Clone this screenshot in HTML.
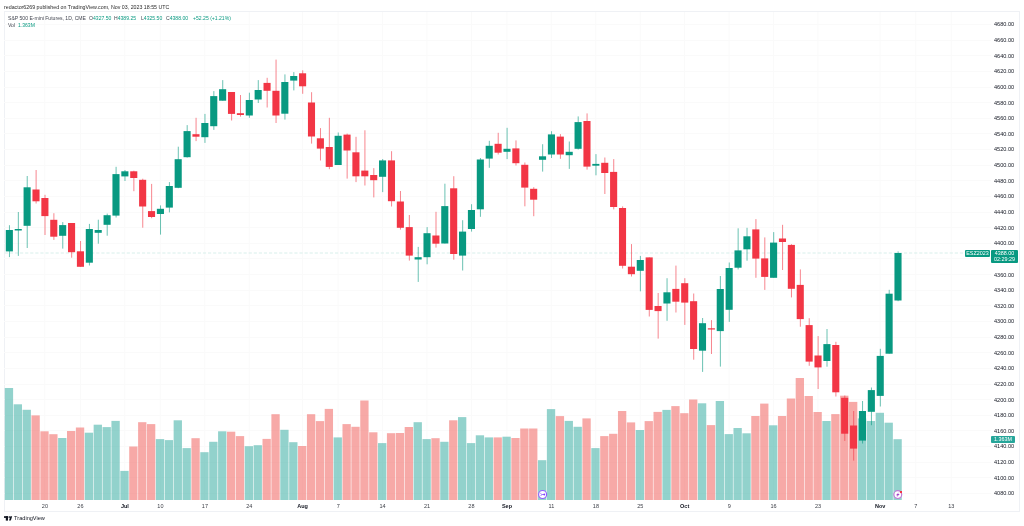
<!DOCTYPE html>
<html><head><meta charset="utf-8">
<style>
html,body{margin:0;padding:0;background:#fff;}
body{width:1024px;height:526px;position:relative;overflow:hidden;font-family:"Liberation Sans", sans-serif;color:#131722;}
.frame{position:absolute;left:4px;top:11px;width:1014px;height:499px;border:1px solid #eff1f5;}
.t{will-change:transform;}
.hdr{position:absolute;left:4px;top:2.8px;font-size:5.85px;line-height:8px;white-space:nowrap;color:#2a2a2a;transform:scaleX(0.903);transform-origin:0 0;}
.lg{position:absolute;left:7.6px;top:14.1px;font-size:5.7px;line-height:8px;white-space:nowrap;color:#434651;transform:scaleX(0.895);transform-origin:0 0;}
.lg2{position:absolute;left:7.6px;top:21.1px;font-size:5.7px;line-height:8px;white-space:nowrap;color:#434651;transform:scaleX(0.895);transform-origin:0 0;}
.v{color:#089981;}
.pl{position:absolute;left:994px;font-size:5.55px;line-height:8px;white-space:nowrap;color:#131722;}
.tl{position:absolute;top:502px;width:40px;text-align:center;font-size:5.5px;line-height:8px;color:#3a3d45;}
.tl.b{font-weight:bold;color:#131722;}
.box{position:absolute;background:#089981;color:#fff;font-size:5.4px;white-space:nowrap;border-radius:1px;text-align:center;}
.logo{position:absolute;left:14.1px;top:514.2px;font-size:5.6px;line-height:8px;color:#131722;white-space:nowrap;}
</style></head><body>
<div class="frame"></div>
<svg width="1024" height="526" viewBox="0 0 1024 526" style="position:absolute;left:0;top:0">
<rect x="4" y="24" width="987" height="1" fill="#fafafa"/>
<rect x="4" y="40" width="987" height="1" fill="#fafafa"/>
<rect x="4" y="55" width="987" height="1" fill="#fafafa"/>
<rect x="4" y="71" width="987" height="1" fill="#fafafa"/>
<rect x="4" y="87" width="987" height="1" fill="#fafafa"/>
<rect x="4" y="102" width="987" height="1" fill="#fafafa"/>
<rect x="4" y="118" width="987" height="1" fill="#fafafa"/>
<rect x="4" y="133" width="987" height="1" fill="#fafafa"/>
<rect x="4" y="149" width="987" height="1" fill="#fafafa"/>
<rect x="4" y="165" width="987" height="1" fill="#fafafa"/>
<rect x="4" y="180" width="987" height="1" fill="#fafafa"/>
<rect x="4" y="196" width="987" height="1" fill="#fafafa"/>
<rect x="4" y="212" width="987" height="1" fill="#fafafa"/>
<rect x="4" y="227" width="987" height="1" fill="#fafafa"/>
<rect x="4" y="243" width="987" height="1" fill="#fafafa"/>
<rect x="4" y="258" width="987" height="1" fill="#fafafa"/>
<rect x="4" y="274" width="987" height="1" fill="#fafafa"/>
<rect x="4" y="290" width="987" height="1" fill="#fafafa"/>
<rect x="4" y="305" width="987" height="1" fill="#fafafa"/>
<rect x="4" y="321" width="987" height="1" fill="#fafafa"/>
<rect x="4" y="337" width="987" height="1" fill="#fafafa"/>
<rect x="4" y="352" width="987" height="1" fill="#fafafa"/>
<rect x="4" y="368" width="987" height="1" fill="#fafafa"/>
<rect x="4" y="384" width="987" height="1" fill="#fafafa"/>
<rect x="4" y="399" width="987" height="1" fill="#fafafa"/>
<rect x="4" y="415" width="987" height="1" fill="#fafafa"/>
<rect x="4" y="430" width="987" height="1" fill="#fafafa"/>
<rect x="4" y="446" width="987" height="1" fill="#fafafa"/>
<rect x="4" y="462" width="987" height="1" fill="#fafafa"/>
<rect x="4" y="477" width="987" height="1" fill="#fafafa"/>
<rect x="4" y="493" width="987" height="1" fill="#fafafa"/>
<rect x="44.30" y="12" width="1" height="488" fill="#fafafa"/>
<rect x="79.84" y="12" width="1" height="488" fill="#fafafa"/>
<rect x="124.27" y="12" width="1" height="488" fill="#fafafa"/>
<rect x="159.82" y="12" width="1" height="488" fill="#fafafa"/>
<rect x="204.25" y="12" width="1" height="488" fill="#fafafa"/>
<rect x="248.69" y="12" width="1" height="488" fill="#fafafa"/>
<rect x="302.00" y="12" width="1" height="488" fill="#fafafa"/>
<rect x="337.55" y="12" width="1" height="488" fill="#fafafa"/>
<rect x="381.98" y="12" width="1" height="488" fill="#fafafa"/>
<rect x="426.42" y="12" width="1" height="488" fill="#fafafa"/>
<rect x="470.85" y="12" width="1" height="488" fill="#fafafa"/>
<rect x="506.39" y="12" width="1" height="488" fill="#fafafa"/>
<rect x="550.83" y="12" width="1" height="488" fill="#fafafa"/>
<rect x="595.26" y="12" width="1" height="488" fill="#fafafa"/>
<rect x="639.69" y="12" width="1" height="488" fill="#fafafa"/>
<rect x="684.12" y="12" width="1" height="488" fill="#fafafa"/>
<rect x="728.56" y="12" width="1" height="488" fill="#fafafa"/>
<rect x="772.99" y="12" width="1" height="488" fill="#fafafa"/>
<rect x="817.42" y="12" width="1" height="488" fill="#fafafa"/>
<rect x="879.63" y="12" width="1" height="488" fill="#fafafa"/>
<rect x="915.17" y="12" width="1" height="488" fill="#fafafa"/>
<rect x="950.72" y="12" width="1" height="488" fill="#fafafa"/>
<rect x="4.80" y="388.0" width="8.3" height="112.00" fill="rgba(38,166,154,0.5)"/>
<rect x="13.69" y="404.3" width="8.3" height="95.70" fill="rgba(38,166,154,0.5)"/>
<rect x="22.57" y="409.8" width="8.3" height="90.20" fill="rgba(38,166,154,0.5)"/>
<rect x="31.46" y="415.4" width="8.3" height="84.60" fill="rgba(239,83,80,0.5)"/>
<rect x="40.35" y="431.3" width="8.3" height="68.70" fill="rgba(239,83,80,0.5)"/>
<rect x="49.23" y="434.2" width="8.3" height="65.80" fill="rgba(239,83,80,0.5)"/>
<rect x="58.12" y="438.0" width="8.3" height="62.00" fill="rgba(38,166,154,0.5)"/>
<rect x="67.01" y="431.0" width="8.3" height="69.00" fill="rgba(239,83,80,0.5)"/>
<rect x="75.89" y="427.5" width="8.3" height="72.50" fill="rgba(239,83,80,0.5)"/>
<rect x="84.78" y="432.7" width="8.3" height="67.30" fill="rgba(38,166,154,0.5)"/>
<rect x="93.66" y="424.7" width="8.3" height="75.30" fill="rgba(38,166,154,0.5)"/>
<rect x="102.55" y="427.1" width="8.3" height="72.90" fill="rgba(38,166,154,0.5)"/>
<rect x="111.44" y="420.9" width="8.3" height="79.10" fill="rgba(38,166,154,0.5)"/>
<rect x="120.32" y="470.9" width="8.3" height="29.10" fill="rgba(38,166,154,0.5)"/>
<rect x="129.21" y="446.5" width="8.3" height="53.50" fill="rgba(239,83,80,0.5)"/>
<rect x="138.10" y="422.2" width="8.3" height="77.80" fill="rgba(239,83,80,0.5)"/>
<rect x="146.98" y="424.1" width="8.3" height="75.90" fill="rgba(239,83,80,0.5)"/>
<rect x="155.87" y="439.1" width="8.3" height="60.90" fill="rgba(38,166,154,0.5)"/>
<rect x="164.76" y="440.1" width="8.3" height="59.90" fill="rgba(38,166,154,0.5)"/>
<rect x="173.64" y="420.3" width="8.3" height="79.70" fill="rgba(38,166,154,0.5)"/>
<rect x="182.53" y="448.1" width="8.3" height="51.90" fill="rgba(38,166,154,0.5)"/>
<rect x="191.42" y="438.2" width="8.3" height="61.80" fill="rgba(239,83,80,0.5)"/>
<rect x="200.30" y="452.2" width="8.3" height="47.80" fill="rgba(38,166,154,0.5)"/>
<rect x="209.19" y="441.8" width="8.3" height="58.20" fill="rgba(38,166,154,0.5)"/>
<rect x="218.08" y="431.3" width="8.3" height="68.70" fill="rgba(38,166,154,0.5)"/>
<rect x="226.96" y="431.7" width="8.3" height="68.30" fill="rgba(239,83,80,0.5)"/>
<rect x="235.85" y="436.1" width="8.3" height="63.90" fill="rgba(239,83,80,0.5)"/>
<rect x="244.74" y="446.2" width="8.3" height="53.80" fill="rgba(38,166,154,0.5)"/>
<rect x="253.62" y="445.2" width="8.3" height="54.80" fill="rgba(38,166,154,0.5)"/>
<rect x="262.51" y="438.9" width="8.3" height="61.10" fill="rgba(239,83,80,0.5)"/>
<rect x="271.39" y="414.2" width="8.3" height="85.80" fill="rgba(239,83,80,0.5)"/>
<rect x="280.28" y="429.8" width="8.3" height="70.20" fill="rgba(38,166,154,0.5)"/>
<rect x="289.17" y="442.2" width="8.3" height="57.80" fill="rgba(38,166,154,0.5)"/>
<rect x="298.05" y="446.0" width="8.3" height="54.00" fill="rgba(239,83,80,0.5)"/>
<rect x="306.94" y="414.2" width="8.3" height="85.80" fill="rgba(239,83,80,0.5)"/>
<rect x="315.83" y="421.1" width="8.3" height="78.90" fill="rgba(239,83,80,0.5)"/>
<rect x="324.71" y="408.9" width="8.3" height="91.10" fill="rgba(239,83,80,0.5)"/>
<rect x="333.60" y="437.4" width="8.3" height="62.60" fill="rgba(38,166,154,0.5)"/>
<rect x="342.49" y="424.1" width="8.3" height="75.90" fill="rgba(239,83,80,0.5)"/>
<rect x="351.37" y="426.8" width="8.3" height="73.20" fill="rgba(239,83,80,0.5)"/>
<rect x="360.26" y="400.5" width="8.3" height="99.50" fill="rgba(239,83,80,0.5)"/>
<rect x="369.15" y="432.3" width="8.3" height="67.70" fill="rgba(239,83,80,0.5)"/>
<rect x="378.03" y="443.1" width="8.3" height="56.90" fill="rgba(38,166,154,0.5)"/>
<rect x="386.92" y="433.2" width="8.3" height="66.80" fill="rgba(239,83,80,0.5)"/>
<rect x="395.81" y="433.0" width="8.3" height="67.00" fill="rgba(239,83,80,0.5)"/>
<rect x="404.69" y="427.0" width="8.3" height="73.00" fill="rgba(239,83,80,0.5)"/>
<rect x="413.58" y="422.2" width="8.3" height="77.80" fill="rgba(38,166,154,0.5)"/>
<rect x="422.47" y="439.1" width="8.3" height="60.90" fill="rgba(38,166,154,0.5)"/>
<rect x="431.35" y="438.2" width="8.3" height="61.80" fill="rgba(239,83,80,0.5)"/>
<rect x="440.24" y="441.8" width="8.3" height="58.20" fill="rgba(38,166,154,0.5)"/>
<rect x="449.12" y="420.3" width="8.3" height="79.70" fill="rgba(239,83,80,0.5)"/>
<rect x="458.01" y="417.1" width="8.3" height="82.90" fill="rgba(38,166,154,0.5)"/>
<rect x="466.90" y="443.1" width="8.3" height="56.90" fill="rgba(38,166,154,0.5)"/>
<rect x="475.78" y="435.3" width="8.3" height="64.70" fill="rgba(38,166,154,0.5)"/>
<rect x="484.67" y="437.4" width="8.3" height="62.60" fill="rgba(38,166,154,0.5)"/>
<rect x="493.56" y="437.4" width="8.3" height="62.60" fill="rgba(239,83,80,0.5)"/>
<rect x="502.44" y="436.7" width="8.3" height="63.30" fill="rgba(38,166,154,0.5)"/>
<rect x="511.33" y="438.0" width="8.3" height="62.00" fill="rgba(239,83,80,0.5)"/>
<rect x="520.22" y="428.5" width="8.3" height="71.50" fill="rgba(239,83,80,0.5)"/>
<rect x="529.10" y="428.5" width="8.3" height="71.50" fill="rgba(239,83,80,0.5)"/>
<rect x="537.99" y="460.2" width="8.3" height="39.80" fill="rgba(38,166,154,0.5)"/>
<rect x="546.88" y="409.1" width="8.3" height="90.90" fill="rgba(38,166,154,0.5)"/>
<rect x="555.76" y="416.1" width="8.3" height="83.90" fill="rgba(239,83,80,0.5)"/>
<rect x="564.65" y="420.9" width="8.3" height="79.10" fill="rgba(38,166,154,0.5)"/>
<rect x="573.54" y="426.8" width="8.3" height="73.20" fill="rgba(38,166,154,0.5)"/>
<rect x="582.42" y="418.4" width="8.3" height="81.60" fill="rgba(239,83,80,0.5)"/>
<rect x="591.31" y="448.1" width="8.3" height="51.90" fill="rgba(38,166,154,0.5)"/>
<rect x="600.20" y="436.1" width="8.3" height="63.90" fill="rgba(239,83,80,0.5)"/>
<rect x="609.08" y="433.8" width="8.3" height="66.20" fill="rgba(239,83,80,0.5)"/>
<rect x="617.97" y="411.0" width="8.3" height="89.00" fill="rgba(239,83,80,0.5)"/>
<rect x="626.86" y="422.4" width="8.3" height="77.60" fill="rgba(239,83,80,0.5)"/>
<rect x="635.74" y="430.0" width="8.3" height="70.00" fill="rgba(38,166,154,0.5)"/>
<rect x="644.63" y="421.1" width="8.3" height="78.90" fill="rgba(239,83,80,0.5)"/>
<rect x="653.51" y="411.9" width="8.3" height="88.10" fill="rgba(239,83,80,0.5)"/>
<rect x="662.40" y="409.9" width="8.3" height="90.10" fill="rgba(38,166,154,0.5)"/>
<rect x="671.29" y="406.1" width="8.3" height="93.90" fill="rgba(239,83,80,0.5)"/>
<rect x="680.17" y="413.2" width="8.3" height="86.80" fill="rgba(239,83,80,0.5)"/>
<rect x="689.06" y="399.5" width="8.3" height="100.50" fill="rgba(239,83,80,0.5)"/>
<rect x="697.95" y="403.3" width="8.3" height="96.70" fill="rgba(38,166,154,0.5)"/>
<rect x="706.83" y="425.1" width="8.3" height="74.90" fill="rgba(239,83,80,0.5)"/>
<rect x="715.72" y="401.0" width="8.3" height="99.00" fill="rgba(38,166,154,0.5)"/>
<rect x="724.61" y="434.1" width="8.3" height="65.90" fill="rgba(38,166,154,0.5)"/>
<rect x="733.49" y="428.0" width="8.3" height="72.00" fill="rgba(38,166,154,0.5)"/>
<rect x="742.38" y="433.3" width="8.3" height="66.70" fill="rgba(38,166,154,0.5)"/>
<rect x="751.27" y="416.0" width="8.3" height="84.00" fill="rgba(239,83,80,0.5)"/>
<rect x="760.15" y="403.6" width="8.3" height="96.40" fill="rgba(239,83,80,0.5)"/>
<rect x="769.04" y="425.3" width="8.3" height="74.70" fill="rgba(38,166,154,0.5)"/>
<rect x="777.93" y="416.0" width="8.3" height="84.00" fill="rgba(239,83,80,0.5)"/>
<rect x="786.81" y="398.5" width="8.3" height="101.50" fill="rgba(239,83,80,0.5)"/>
<rect x="795.70" y="378.0" width="8.3" height="122.00" fill="rgba(239,83,80,0.5)"/>
<rect x="804.59" y="396.0" width="8.3" height="104.00" fill="rgba(239,83,80,0.5)"/>
<rect x="813.47" y="412.0" width="8.3" height="88.00" fill="rgba(239,83,80,0.5)"/>
<rect x="822.36" y="421.0" width="8.3" height="79.00" fill="rgba(38,166,154,0.5)"/>
<rect x="831.24" y="414.1" width="8.3" height="85.90" fill="rgba(239,83,80,0.5)"/>
<rect x="840.13" y="395.7" width="8.3" height="104.30" fill="rgba(239,83,80,0.5)"/>
<rect x="849.02" y="401.9" width="8.3" height="98.10" fill="rgba(239,83,80,0.5)"/>
<rect x="857.90" y="418.4" width="8.3" height="81.60" fill="rgba(38,166,154,0.5)"/>
<rect x="866.79" y="421.0" width="8.3" height="79.00" fill="rgba(38,166,154,0.5)"/>
<rect x="875.68" y="412.8" width="8.3" height="87.20" fill="rgba(38,166,154,0.5)"/>
<rect x="884.56" y="422.7" width="8.3" height="77.30" fill="rgba(38,166,154,0.5)"/>
<rect x="893.45" y="439.2" width="8.3" height="60.80" fill="rgba(38,166,154,0.5)"/>
<line x1="4.8" y1="253" x2="965" y2="253" stroke="#d8efeb" stroke-width="1" stroke-dasharray="3.2,1.88"/>
<rect x="8.95" y="225.20" width="1" height="31.90" fill="#089981" fill-opacity="0.6"/>
<rect x="5.80" y="230.00" width="7.1" height="21.40" fill="#089981"/>
<rect x="17.84" y="212.00" width="1" height="43.90" fill="#089981" fill-opacity="0.6"/>
<rect x="14.69" y="229.00" width="7.1" height="1.50" fill="#089981"/>
<rect x="26.72" y="176.00" width="1" height="72.00" fill="#089981" fill-opacity="0.6"/>
<rect x="23.57" y="187.30" width="7.1" height="38.50" fill="#089981"/>
<rect x="35.61" y="170.00" width="1" height="33.50" fill="#f23645" fill-opacity="0.6"/>
<rect x="32.46" y="189.50" width="7.1" height="11.80" fill="#f23645"/>
<rect x="44.50" y="194.80" width="1" height="40.20" fill="#f23645" fill-opacity="0.6"/>
<rect x="41.35" y="198.00" width="7.1" height="18.10" fill="#f23645"/>
<rect x="53.38" y="213.20" width="1" height="26.70" fill="#f23645" fill-opacity="0.6"/>
<rect x="50.23" y="219.80" width="7.1" height="16.90" fill="#f23645"/>
<rect x="62.27" y="222.10" width="1" height="26.50" fill="#089981" fill-opacity="0.6"/>
<rect x="59.12" y="225.10" width="7.1" height="10.70" fill="#089981"/>
<rect x="71.16" y="223.00" width="1" height="34.70" fill="#f23645" fill-opacity="0.6"/>
<rect x="68.01" y="223.00" width="7.1" height="29.20" fill="#f23645"/>
<rect x="80.04" y="241.00" width="1" height="25.80" fill="#f23645" fill-opacity="0.6"/>
<rect x="76.89" y="251.30" width="7.1" height="15.50" fill="#f23645"/>
<rect x="88.93" y="223.90" width="1" height="41.60" fill="#089981" fill-opacity="0.6"/>
<rect x="85.78" y="229.00" width="7.1" height="33.70" fill="#089981"/>
<rect x="97.81" y="219.70" width="1" height="24.00" fill="#089981" fill-opacity="0.6"/>
<rect x="94.66" y="230.00" width="7.1" height="2.80" fill="#089981"/>
<rect x="106.70" y="213.60" width="1" height="22.10" fill="#089981" fill-opacity="0.6"/>
<rect x="103.55" y="215.20" width="7.1" height="9.60" fill="#089981"/>
<rect x="115.59" y="166.80" width="1" height="50.70" fill="#089981" fill-opacity="0.6"/>
<rect x="112.44" y="174.10" width="7.1" height="41.50" fill="#089981"/>
<rect x="124.47" y="170.00" width="1" height="11.00" fill="#089981" fill-opacity="0.6"/>
<rect x="121.32" y="171.30" width="7.1" height="5.10" fill="#089981"/>
<rect x="133.36" y="170.70" width="1" height="20.50" fill="#f23645" fill-opacity="0.6"/>
<rect x="130.21" y="171.30" width="7.1" height="6.70" fill="#f23645"/>
<rect x="142.25" y="178.70" width="1" height="49.00" fill="#f23645" fill-opacity="0.6"/>
<rect x="139.10" y="179.80" width="7.1" height="26.70" fill="#f23645"/>
<rect x="151.13" y="183.90" width="1" height="34.30" fill="#f23645" fill-opacity="0.6"/>
<rect x="147.98" y="211.10" width="7.1" height="5.90" fill="#f23645"/>
<rect x="160.02" y="205.40" width="1" height="29.20" fill="#089981" fill-opacity="0.6"/>
<rect x="156.87" y="208.80" width="7.1" height="5.20" fill="#089981"/>
<rect x="168.91" y="182.10" width="1" height="30.30" fill="#089981" fill-opacity="0.6"/>
<rect x="165.76" y="186.00" width="7.1" height="21.60" fill="#089981"/>
<rect x="177.79" y="146.70" width="1" height="41.50" fill="#089981" fill-opacity="0.6"/>
<rect x="174.64" y="159.20" width="7.1" height="28.60" fill="#089981"/>
<rect x="186.68" y="125.10" width="1" height="32.50" fill="#089981" fill-opacity="0.6"/>
<rect x="183.53" y="131.10" width="7.1" height="26.10" fill="#089981"/>
<rect x="195.57" y="117.80" width="1" height="23.30" fill="#f23645" fill-opacity="0.6"/>
<rect x="192.42" y="134.20" width="7.1" height="2.50" fill="#f23645"/>
<rect x="204.45" y="113.90" width="1" height="29.00" fill="#089981" fill-opacity="0.6"/>
<rect x="201.30" y="123.00" width="7.1" height="14.20" fill="#089981"/>
<rect x="213.34" y="91.10" width="1" height="38.80" fill="#089981" fill-opacity="0.6"/>
<rect x="210.19" y="96.10" width="7.1" height="30.10" fill="#089981"/>
<rect x="222.23" y="80.10" width="1" height="20.60" fill="#089981" fill-opacity="0.6"/>
<rect x="219.08" y="89.20" width="7.1" height="11.50" fill="#089981"/>
<rect x="231.11" y="92.00" width="1" height="28.50" fill="#f23645" fill-opacity="0.6"/>
<rect x="227.96" y="92.00" width="7.1" height="21.90" fill="#f23645"/>
<rect x="240.00" y="95.00" width="1" height="21.60" fill="#f23645" fill-opacity="0.6"/>
<rect x="236.85" y="113.20" width="7.1" height="1.80" fill="#f23645"/>
<rect x="248.89" y="92.70" width="1" height="25.10" fill="#089981" fill-opacity="0.6"/>
<rect x="245.74" y="100.00" width="7.1" height="15.50" fill="#089981"/>
<rect x="257.77" y="80.10" width="1" height="22.90" fill="#089981" fill-opacity="0.6"/>
<rect x="254.62" y="90.00" width="7.1" height="9.50" fill="#089981"/>
<rect x="266.66" y="77.80" width="1" height="29.70" fill="#f23645" fill-opacity="0.6"/>
<rect x="263.51" y="82.90" width="7.1" height="7.90" fill="#f23645"/>
<rect x="275.55" y="59.60" width="1" height="63.40" fill="#f23645" fill-opacity="0.6"/>
<rect x="272.39" y="90.80" width="7.1" height="24.70" fill="#f23645"/>
<rect x="284.43" y="74.40" width="1" height="45.20" fill="#089981" fill-opacity="0.6"/>
<rect x="281.28" y="82.00" width="7.1" height="31.70" fill="#089981"/>
<rect x="293.32" y="72.10" width="1" height="18.30" fill="#089981" fill-opacity="0.6"/>
<rect x="290.17" y="76.00" width="7.1" height="4.60" fill="#089981"/>
<rect x="302.20" y="70.30" width="1" height="23.50" fill="#f23645" fill-opacity="0.6"/>
<rect x="299.05" y="73.30" width="7.1" height="13.00" fill="#f23645"/>
<rect x="311.09" y="92.20" width="1" height="51.40" fill="#f23645" fill-opacity="0.6"/>
<rect x="307.94" y="102.50" width="7.1" height="34.00" fill="#f23645"/>
<rect x="319.98" y="128.10" width="1" height="32.40" fill="#f23645" fill-opacity="0.6"/>
<rect x="316.83" y="138.30" width="7.1" height="10.30" fill="#f23645"/>
<rect x="328.86" y="117.80" width="1" height="51.40" fill="#f23645" fill-opacity="0.6"/>
<rect x="325.71" y="147.00" width="7.1" height="19.90" fill="#f23645"/>
<rect x="337.75" y="132.50" width="1" height="32.50" fill="#089981" fill-opacity="0.6"/>
<rect x="334.60" y="135.80" width="7.1" height="29.20" fill="#089981"/>
<rect x="346.64" y="133.60" width="1" height="45.00" fill="#f23645" fill-opacity="0.6"/>
<rect x="343.49" y="134.60" width="7.1" height="15.90" fill="#f23645"/>
<rect x="355.52" y="136.80" width="1" height="45.30" fill="#f23645" fill-opacity="0.6"/>
<rect x="352.37" y="152.30" width="7.1" height="24.00" fill="#f23645"/>
<rect x="364.41" y="130.30" width="1" height="55.20" fill="#f23645" fill-opacity="0.6"/>
<rect x="361.26" y="170.60" width="7.1" height="5.70" fill="#f23645"/>
<rect x="373.30" y="168.10" width="1" height="29.30" fill="#f23645" fill-opacity="0.6"/>
<rect x="370.15" y="175.00" width="7.1" height="5.20" fill="#f23645"/>
<rect x="382.18" y="159.00" width="1" height="33.10" fill="#089981" fill-opacity="0.6"/>
<rect x="379.03" y="160.40" width="7.1" height="16.40" fill="#089981"/>
<rect x="391.07" y="151.20" width="1" height="55.30" fill="#f23645" fill-opacity="0.6"/>
<rect x="387.92" y="160.40" width="7.1" height="40.80" fill="#f23645"/>
<rect x="399.96" y="191.00" width="1" height="38.60" fill="#f23645" fill-opacity="0.6"/>
<rect x="396.81" y="201.50" width="7.1" height="26.30" fill="#f23645"/>
<rect x="408.84" y="215.00" width="1" height="45.60" fill="#f23645" fill-opacity="0.6"/>
<rect x="405.69" y="227.10" width="7.1" height="28.50" fill="#f23645"/>
<rect x="417.73" y="246.90" width="1" height="35.00" fill="#089981" fill-opacity="0.6"/>
<rect x="414.58" y="257.20" width="7.1" height="2.30" fill="#089981"/>
<rect x="426.62" y="227.10" width="1" height="37.20" fill="#089981" fill-opacity="0.6"/>
<rect x="423.47" y="233.20" width="7.1" height="24.00" fill="#089981"/>
<rect x="435.50" y="211.80" width="1" height="35.80" fill="#f23645" fill-opacity="0.6"/>
<rect x="432.35" y="235.50" width="7.1" height="8.20" fill="#f23645"/>
<rect x="444.39" y="183.70" width="1" height="59.80" fill="#089981" fill-opacity="0.6"/>
<rect x="441.24" y="206.10" width="7.1" height="37.40" fill="#089981"/>
<rect x="453.28" y="176.20" width="1" height="83.50" fill="#f23645" fill-opacity="0.6"/>
<rect x="450.12" y="188.30" width="7.1" height="65.70" fill="#f23645"/>
<rect x="462.16" y="220.20" width="1" height="50.30" fill="#089981" fill-opacity="0.6"/>
<rect x="459.01" y="231.60" width="7.1" height="24.00" fill="#089981"/>
<rect x="471.05" y="204.20" width="1" height="27.40" fill="#089981" fill-opacity="0.6"/>
<rect x="467.90" y="210.00" width="7.1" height="19.00" fill="#089981"/>
<rect x="479.93" y="158.00" width="1" height="58.80" fill="#089981" fill-opacity="0.6"/>
<rect x="476.78" y="159.50" width="7.1" height="49.80" fill="#089981"/>
<rect x="488.82" y="140.80" width="1" height="27.00" fill="#089981" fill-opacity="0.6"/>
<rect x="485.67" y="145.80" width="7.1" height="12.80" fill="#089981"/>
<rect x="497.71" y="132.80" width="1" height="21.70" fill="#f23645" fill-opacity="0.6"/>
<rect x="494.56" y="143.80" width="7.1" height="8.90" fill="#f23645"/>
<rect x="506.59" y="127.80" width="1" height="31.30" fill="#089981" fill-opacity="0.6"/>
<rect x="503.44" y="148.80" width="7.1" height="3.00" fill="#089981"/>
<rect x="515.48" y="140.40" width="1" height="25.10" fill="#f23645" fill-opacity="0.6"/>
<rect x="512.33" y="148.40" width="7.1" height="14.80" fill="#f23645"/>
<rect x="524.37" y="162.50" width="1" height="43.80" fill="#f23645" fill-opacity="0.6"/>
<rect x="521.22" y="164.80" width="7.1" height="22.80" fill="#f23645"/>
<rect x="533.25" y="187.20" width="1" height="29.00" fill="#f23645" fill-opacity="0.6"/>
<rect x="530.10" y="188.80" width="7.1" height="10.90" fill="#f23645"/>
<rect x="542.14" y="144.20" width="1" height="27.40" fill="#089981" fill-opacity="0.6"/>
<rect x="538.99" y="156.30" width="7.1" height="3.50" fill="#089981"/>
<rect x="551.03" y="131.20" width="1" height="26.80" fill="#089981" fill-opacity="0.6"/>
<rect x="547.88" y="134.40" width="7.1" height="20.10" fill="#089981"/>
<rect x="559.91" y="134.10" width="1" height="24.70" fill="#f23645" fill-opacity="0.6"/>
<rect x="556.76" y="136.60" width="7.1" height="17.90" fill="#f23645"/>
<rect x="568.80" y="141.50" width="1" height="27.40" fill="#089981" fill-opacity="0.6"/>
<rect x="565.65" y="151.80" width="7.1" height="3.40" fill="#089981"/>
<rect x="577.69" y="116.40" width="1" height="33.10" fill="#089981" fill-opacity="0.6"/>
<rect x="574.54" y="122.10" width="7.1" height="26.70" fill="#089981"/>
<rect x="586.57" y="113.40" width="1" height="56.20" fill="#f23645" fill-opacity="0.6"/>
<rect x="583.42" y="121.00" width="7.1" height="45.60" fill="#f23645"/>
<rect x="595.46" y="154.10" width="1" height="21.20" fill="#089981" fill-opacity="0.6"/>
<rect x="592.31" y="163.90" width="7.1" height="1.80" fill="#089981"/>
<rect x="604.35" y="157.50" width="1" height="36.50" fill="#f23645" fill-opacity="0.6"/>
<rect x="601.20" y="162.80" width="7.1" height="10.20" fill="#f23645"/>
<rect x="613.23" y="159.10" width="1" height="50.30" fill="#f23645" fill-opacity="0.6"/>
<rect x="610.08" y="171.90" width="7.1" height="35.10" fill="#f23645"/>
<rect x="622.12" y="206.40" width="1" height="62.10" fill="#f23645" fill-opacity="0.6"/>
<rect x="618.97" y="208.00" width="7.1" height="57.80" fill="#f23645"/>
<rect x="631.00" y="244.10" width="1" height="32.40" fill="#f23645" fill-opacity="0.6"/>
<rect x="627.86" y="266.70" width="7.1" height="7.50" fill="#f23645"/>
<rect x="639.89" y="255.90" width="1" height="35.40" fill="#089981" fill-opacity="0.6"/>
<rect x="636.74" y="260.00" width="7.1" height="10.80" fill="#089981"/>
<rect x="648.78" y="257.40" width="1" height="59.10" fill="#f23645" fill-opacity="0.6"/>
<rect x="645.63" y="257.40" width="7.1" height="52.50" fill="#f23645"/>
<rect x="657.66" y="293.00" width="1" height="45.60" fill="#f23645" fill-opacity="0.6"/>
<rect x="654.51" y="306.00" width="7.1" height="5.10" fill="#f23645"/>
<rect x="666.55" y="278.20" width="1" height="42.60" fill="#089981" fill-opacity="0.6"/>
<rect x="663.40" y="292.30" width="7.1" height="11.20" fill="#089981"/>
<rect x="675.44" y="265.60" width="1" height="46.90" fill="#f23645" fill-opacity="0.6"/>
<rect x="672.29" y="288.90" width="7.1" height="12.80" fill="#f23645"/>
<rect x="684.32" y="278.20" width="1" height="46.70" fill="#f23645" fill-opacity="0.6"/>
<rect x="681.17" y="283.20" width="7.1" height="19.40" fill="#f23645"/>
<rect x="693.21" y="293.50" width="1" height="66.20" fill="#f23645" fill-opacity="0.6"/>
<rect x="690.06" y="301.20" width="7.1" height="47.80" fill="#f23645"/>
<rect x="702.10" y="318.00" width="1" height="53.90" fill="#089981" fill-opacity="0.6"/>
<rect x="698.95" y="323.20" width="7.1" height="27.50" fill="#089981"/>
<rect x="710.98" y="320.10" width="1" height="33.90" fill="#f23645" fill-opacity="0.6"/>
<rect x="707.83" y="328.30" width="7.1" height="1.20" fill="#f23645"/>
<rect x="719.87" y="276.00" width="1" height="90.60" fill="#089981" fill-opacity="0.6"/>
<rect x="716.72" y="289.00" width="7.1" height="42.10" fill="#089981"/>
<rect x="728.76" y="262.50" width="1" height="59.40" fill="#089981" fill-opacity="0.6"/>
<rect x="725.61" y="268.00" width="7.1" height="41.80" fill="#089981"/>
<rect x="737.64" y="228.30" width="1" height="41.10" fill="#089981" fill-opacity="0.6"/>
<rect x="734.49" y="250.40" width="7.1" height="17.30" fill="#089981"/>
<rect x="746.53" y="227.80" width="1" height="32.90" fill="#089981" fill-opacity="0.6"/>
<rect x="743.38" y="236.30" width="7.1" height="13.00" fill="#089981"/>
<rect x="755.42" y="219.10" width="1" height="58.70" fill="#f23645" fill-opacity="0.6"/>
<rect x="752.27" y="229.40" width="7.1" height="29.20" fill="#f23645"/>
<rect x="764.30" y="237.40" width="1" height="52.50" fill="#f23645" fill-opacity="0.6"/>
<rect x="761.15" y="258.40" width="7.1" height="18.50" fill="#f23645"/>
<rect x="773.19" y="232.10" width="1" height="45.70" fill="#089981" fill-opacity="0.6"/>
<rect x="770.04" y="242.60" width="7.1" height="35.20" fill="#089981"/>
<rect x="782.08" y="224.80" width="1" height="45.20" fill="#f23645" fill-opacity="0.6"/>
<rect x="778.93" y="238.50" width="7.1" height="3.50" fill="#f23645"/>
<rect x="790.96" y="244.20" width="1" height="53.20" fill="#f23645" fill-opacity="0.6"/>
<rect x="787.81" y="244.90" width="7.1" height="43.90" fill="#f23645"/>
<rect x="799.85" y="269.40" width="1" height="57.30" fill="#f23645" fill-opacity="0.6"/>
<rect x="796.70" y="284.90" width="7.1" height="34.20" fill="#f23645"/>
<rect x="808.74" y="318.20" width="1" height="47.60" fill="#f23645" fill-opacity="0.6"/>
<rect x="805.59" y="325.10" width="7.1" height="36.50" fill="#f23645"/>
<rect x="817.62" y="336.10" width="1" height="52.90" fill="#f23645" fill-opacity="0.6"/>
<rect x="814.47" y="355.50" width="7.1" height="11.90" fill="#f23645"/>
<rect x="826.51" y="329.00" width="1" height="37.70" fill="#089981" fill-opacity="0.6"/>
<rect x="823.36" y="344.10" width="7.1" height="16.90" fill="#089981"/>
<rect x="835.39" y="341.80" width="1" height="54.70" fill="#f23645" fill-opacity="0.6"/>
<rect x="832.24" y="345.00" width="7.1" height="47.30" fill="#f23645"/>
<rect x="844.28" y="395.50" width="1" height="45.40" fill="#f23645" fill-opacity="0.6"/>
<rect x="841.13" y="397.80" width="7.1" height="35.90" fill="#f23645"/>
<rect x="853.17" y="411.00" width="1" height="49.60" fill="#f23645" fill-opacity="0.6"/>
<rect x="850.02" y="425.50" width="7.1" height="23.10" fill="#f23645"/>
<rect x="862.05" y="401.00" width="1" height="42.50" fill="#089981" fill-opacity="0.6"/>
<rect x="858.90" y="411.00" width="7.1" height="29.60" fill="#089981"/>
<rect x="870.94" y="387.50" width="1" height="37.70" fill="#089981" fill-opacity="0.6"/>
<rect x="867.79" y="390.10" width="7.1" height="21.70" fill="#089981"/>
<rect x="879.83" y="348.80" width="1" height="57.70" fill="#089981" fill-opacity="0.6"/>
<rect x="876.68" y="355.90" width="7.1" height="40.00" fill="#089981"/>
<rect x="888.71" y="289.80" width="1" height="63.90" fill="#089981" fill-opacity="0.6"/>
<rect x="885.56" y="293.70" width="7.1" height="60.00" fill="#089981"/>
<rect x="897.60" y="251.40" width="1" height="49.80" fill="#089981" fill-opacity="0.6"/>
<rect x="894.45" y="253.00" width="7.1" height="47.50" fill="#089981"/>
<circle cx="542.6" cy="494.5" r="4" fill="#fff" stroke="#8f5cff" stroke-width="1.1"/>
<path d="M540.3 493.2 L541.9 494.5 L540.6 496.0 M541.9 494.5 H544.0" stroke="#8f5cff" stroke-width="0.8" fill="none"/>
<circle cx="544.3" cy="494.5" r="0.9" fill="#7b3cff"/>
<circle cx="897.8" cy="494.6" r="3.9" fill="#fff" stroke="#c27ad8" stroke-width="1.2"/>
<path d="M899.0 492.2 L895.9 495.3 L897.6 495.3 L896.6 497.3 L899.7 494.0 L898.0 494.0 Z" fill="#a040c8"/>
<rect x="899.9" y="491.0" width="2.1" height="2.1" fill="#f23645"/>
<g fill="#131722"><rect x="4.0" y="516.2" width="4.0" height="1.7"/><rect x="5.8" y="516.2" width="2.2" height="4.4"/><circle cx="9.3" cy="517.0" r="0.85"/><path d="M9.0 520.6 L10.4 516.2 L12.2 516.2 L10.8 520.6 Z"/></g>
</svg>
<div class="t">
<div class="hdr">redactor6269 published on TradingView.com, Nov 03, 2023 18:55 UTC</div>
<div class="lg">S&amp;P 500 E-mini Futures, 1D, CME</div>
<div class="lg" style="left:89.1px">O<span class="v">4327.50</span></div>
<div class="lg" style="left:114.1px">H<span class="v">4389.25</span></div>
<div class="lg" style="left:141px">L<span class="v">4325.50</span></div>
<div class="lg" style="left:165.8px">C<span class="v">4388.00</span></div>
<div class="lg v" style="left:192.5px">+52.25 (+1.21%)</div>
<div class="lg2">Vol&nbsp;&nbsp;<span class="v">1.363M</span></div>
<div class="pl" style="top:20.40px">4680.00</div><div class="pl" style="top:36.03px">4660.00</div><div class="pl" style="top:51.66px">4640.00</div><div class="pl" style="top:67.29px">4620.00</div><div class="pl" style="top:82.92px">4600.00</div><div class="pl" style="top:98.56px">4580.00</div><div class="pl" style="top:114.19px">4560.00</div><div class="pl" style="top:129.82px">4540.00</div><div class="pl" style="top:145.45px">4520.00</div><div class="pl" style="top:161.08px">4500.00</div><div class="pl" style="top:176.71px">4480.00</div><div class="pl" style="top:192.34px">4460.00</div><div class="pl" style="top:207.97px">4440.00</div><div class="pl" style="top:223.60px">4420.00</div><div class="pl" style="top:239.23px">4400.00</div><div class="pl" style="top:270.50px">4360.00</div><div class="pl" style="top:286.13px">4340.00</div><div class="pl" style="top:301.76px">4320.00</div><div class="pl" style="top:317.39px">4300.00</div><div class="pl" style="top:333.02px">4280.00</div><div class="pl" style="top:348.65px">4260.00</div><div class="pl" style="top:364.28px">4240.00</div><div class="pl" style="top:379.91px">4220.00</div><div class="pl" style="top:395.54px">4200.00</div><div class="pl" style="top:411.17px">4180.00</div><div class="pl" style="top:426.81px">4160.00</div><div class="pl" style="top:442.44px">4140.00</div><div class="pl" style="top:458.07px">4120.00</div><div class="pl" style="top:473.70px">4100.00</div><div class="pl" style="top:489.33px">4080.00</div>
<div class="tl" style="left:24.9px">20</div><div class="tl" style="left:60.4px">26</div><div class="tl b" style="left:104.9px">Jul</div><div class="tl" style="left:140.4px">10</div><div class="tl" style="left:184.9px">17</div><div class="tl" style="left:229.3px">24</div><div class="tl b" style="left:282.6px">Aug</div><div class="tl" style="left:318.2px">7</div><div class="tl" style="left:362.6px">14</div><div class="tl" style="left:407.0px">21</div><div class="tl" style="left:451.4px">28</div><div class="tl b" style="left:487.0px">Sep</div><div class="tl" style="left:531.4px">11</div><div class="tl" style="left:575.9px">18</div><div class="tl" style="left:620.3px">25</div><div class="tl b" style="left:664.7px">Oct</div><div class="tl" style="left:709.2px">9</div><div class="tl" style="left:753.6px">16</div><div class="tl" style="left:798.0px">23</div><div class="tl b" style="left:860.2px">Nov</div><div class="tl" style="left:895.8px">7</div><div class="tl" style="left:931.3px">13</div>
<div class="box" style="left:965px;top:249.5px;width:25px;height:7px;line-height:7px">ESZ2023</div>
<div class="box" style="left:991px;top:249.5px;width:27px;height:13px;line-height:6.5px">4388.00<br>02:29:29</div>
<div class="box" style="left:991px;top:436px;width:24px;height:6.7px;line-height:6.7px;background:#26a69a">1.363M</div>
<div class="logo">TradingView</div>
</div>
</body></html>
